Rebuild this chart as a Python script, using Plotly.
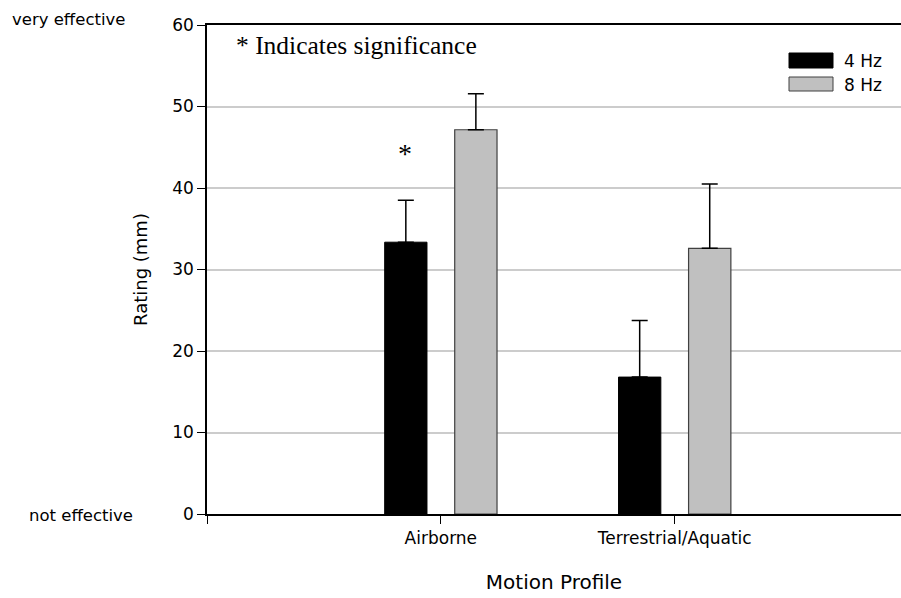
import plotly.graph_objects as go

categories = ["Airborne", "Terrestrial/Aquatic"]
series_names = ["4 Hz", "8 Hz"]
values_4hz = [33.35, 16.8]
values_8hz = [47.15, 32.6]
err_4hz = [5.15, 6.95]
err_8hz = [4.4, 7.9]
y_ticks = [0, 10, 20, 30, 40, 50, 60]
sig_marker_y = 44.2

FONT = "DejaVu Sans"
W, H = 901, 598
ML, MT, MB, MR = 207, 25, 84, 0

xpos = [i + 1 for i in range(len(categories))]

fig = go.Figure()
fig.add_trace(go.Bar(
    x=xpos, y=values_4hz, name=series_names[0],
    marker=dict(color="#000000", line=dict(color="#000000", width=1)),
    error_y=dict(type="data", symmetric=False, array=err_4hz,
                 arrayminus=[0] * len(err_4hz), color="#000000",
                 thickness=1.5, width=8),
))
fig.add_trace(go.Bar(
    x=xpos, y=values_8hz, name=series_names[1],
    marker=dict(color="#c0c0c0", line=dict(color="#404040", width=1.2)),
    error_y=dict(type="data", symmetric=False, array=err_8hz,
                 arrayminus=[0] * len(err_8hz), color="#000000",
                 thickness=1.5, width=8),
))

pw = W - ML - MR
ph = H - MT - MB
def px_x(p):
    return (p - ML) / pw
def px_y(p):
    return (H - MB - p) / ph

shapes = [
    dict(type="rect", xref="paper", yref="paper",
         x0=px_x(789), x1=px_x(833), y0=px_y(68), y1=px_y(53),
         fillcolor="#000000", line=dict(color="#000000", width=1)),
    dict(type="rect", xref="paper", yref="paper",
         x0=px_x(789), x1=px_x(833), y0=px_y(91), y1=px_y(77),
         fillcolor="#c0c0c0", line=dict(color="#404040", width=1)),
]

annotations = [
    dict(text=series_names[0], xref="paper", yref="paper", x=px_x(842), y=px_y(61),
         xanchor="left", yanchor="middle", showarrow=False,
         font=dict(family=FONT, size=17, color="#000000")),
    dict(text=series_names[1], xref="paper", yref="paper", x=px_x(842), y=px_y(85),
         xanchor="left", yanchor="middle", showarrow=False,
         font=dict(family=FONT, size=17, color="#000000")),
    dict(text="very effective", xref="paper", yref="paper", x=px_x(127), y=px_y(19),
         xanchor="right", yanchor="middle", showarrow=False,
         font=dict(family=FONT, size=16.5, color="#000000")),
    dict(text="not effective", xref="paper", yref="paper", x=px_x(135), y=px_y(515),
         xanchor="right", yanchor="middle", showarrow=False,
         font=dict(family=FONT, size=16.5, color="#000000")),
    dict(text="* Indicates significance", xref="paper", yref="paper", x=px_x(234), y=px_y(45),
         xanchor="left", yanchor="middle", showarrow=False,
         font=dict(family="Liberation Serif", size=25.5, color="#000000")),
    dict(text="*", xref="x", yref="y", x=xpos[0], y=sig_marker_y, xshift=-36,
         xanchor="center", yanchor="middle", showarrow=False,
         font=dict(family="Liberation Serif", size=28, color="#000000")),
]

fig.update_layout(
    width=W, height=H,
    margin=dict(l=ML, r=MR, t=MT, b=MB, pad=0),
    paper_bgcolor="#ffffff", plot_bgcolor="#ffffff",
    barmode="group", bargap=0.401, bargroupgap=0.396,
    showlegend=False,
    shapes=shapes, annotations=annotations,
    font=dict(family=FONT, size=16, color="#000000"),
    xaxis=dict(
        range=[0, (W - MR - ML) / 233.85],
        tickvals=[0] + xpos, ticktext=[""] + categories,
        ticks="outside", ticklen=8, tickwidth=1, tickcolor="#000000",
        showline=True, linecolor="#000000", linewidth=1.5, mirror=True,
        showgrid=False, zeroline=False,
        tickfont=dict(family=FONT, size=17, color="#000000"),
        title=dict(text="Motion Profile", font=dict(family=FONT, size=20, color="#000000"),
                   standoff=28),
    ),
    yaxis=dict(
        range=[0, 60], tickvals=y_ticks,
        ticks="outside", ticklen=8, tickwidth=1, tickcolor="#000000",
        showline=True, linecolor="#000000", linewidth=1.5,
        showgrid=True, gridcolor="#cccccc", gridwidth=1.5, zeroline=False,
        tickfont=dict(family=FONT, size=17, color="#000000"),
        title=dict(text="Rating (mm)", font=dict(family=FONT, size=18, color="#000000"),
                   standoff=20),
    ),
)

fig.write_html("out.html",
               config={"displayModeBar": False},
               post_script="document.body.style.margin='0px';document.body.style.overflow='hidden';")
